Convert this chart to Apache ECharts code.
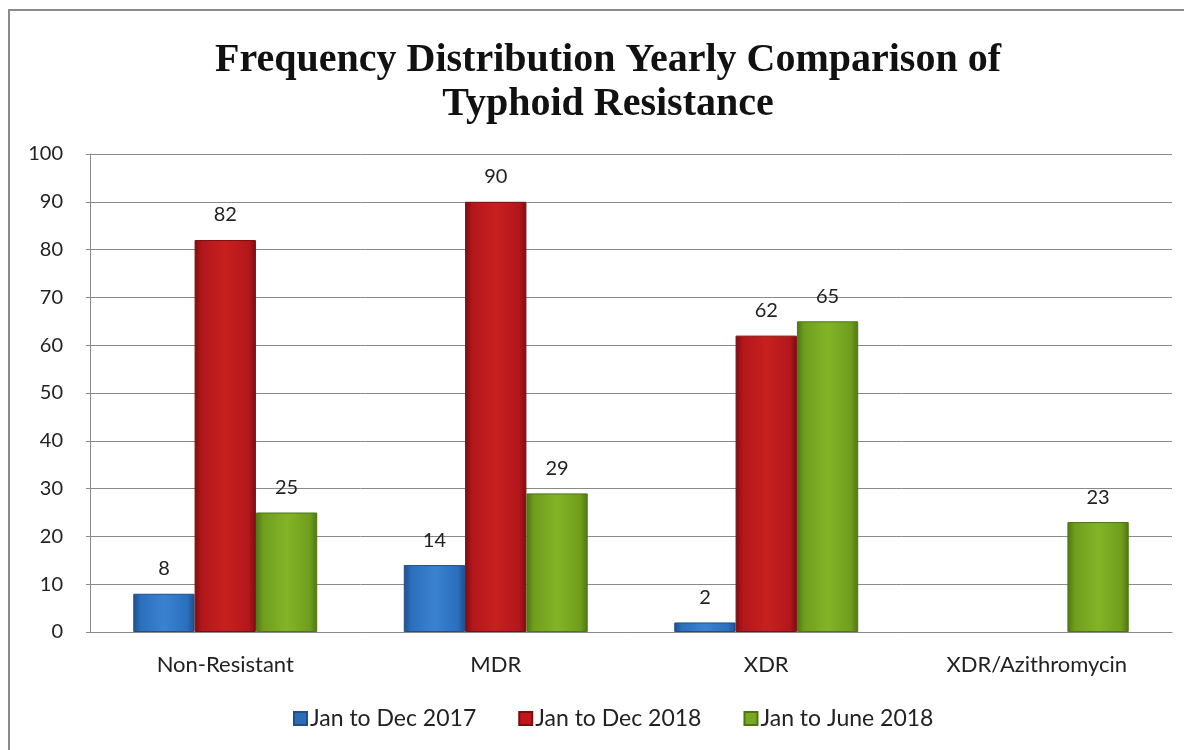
<!DOCTYPE html>
<html>
<head>
<meta charset="utf-8">
<script src="https://cdn.jsdelivr.net/npm/echarts@6/dist/echarts.min.js"></script>
<style>
  html, body { margin: 0; padding: 0; background: #fff; }
  #chart { width: 1184px; height: 750px; }
</style>
</head>
<body>
<div id="chart"></div>
<script>
// Resistance categories and counts per period
const categories = ['Non-Resistant', 'MDR', 'XDR', 'XDR/Azithromycin'];
const seriesNames = ['Jan to Dec 2017', 'Jan to Dec 2018', 'Jan to June 2018'];
const values2017 = [8, 14, 2, null];
const values2018 = [82, 90, 62, null];
const valuesJun2018 = [25, 29, 65, 23];
const yTicks = { min: 0, max: 100, interval: 10 };

const baseFont = 'Lato, "Open Sans", sans-serif';

// Bevelled look: horizontal gradient darker on the sides
function barFill(dark, mid, light) {
  return new echarts.graphic.LinearGradient(0, 0, 1, 0, [
    { offset: 0, color: dark },
    { offset: 0.12, color: mid },
    { offset: 0.5, color: light },
    { offset: 0.88, color: mid },
    { offset: 1, color: dark }
  ]);
}

const palettes = [
  { dark: '#1d4f8c', mid: '#2b6fbd', light: '#3a82d0', legend: '#2a6cb6' },
  { dark: '#7e0d10', mid: '#b3171b', light: '#c8201f', legend: '#c0171b' },
  { dark: '#4f7512', mid: '#6f9e1d', light: '#82b427', legend: '#78a822' }
];

const dataSets = [values2017, values2018, valuesJun2018];

const chart = echarts.init(document.getElementById('chart'), null, { renderer: 'canvas' });

chart.setOption({
  backgroundColor: '#fff',
  animation: false,
  title: {
    text: 'Frequency Distribution Yearly Comparison of\nTyphoid Resistance',
    left: 603,
    textAlign: 'center',
    top: 34,
    textStyle: {
      fontFamily: '"Liberation Serif", "Times New Roman", serif',
      fontWeight: 'bold',
      fontSize: 40,
      lineHeight: 44,
      color: '#111'
    }
  },
  graphic: [{
    type: 'rect',
    shape: { x: 9, y: 10, width: 1200, height: 800 },
    style: { fill: 'none', stroke: '#8a8a8a', lineWidth: 2 },
    silent: true,
    z: -1
  }],
  legend: {
    bottom: 15,
    left: 288,
    itemWidth: 13,
    itemHeight: 13,
    itemGap: 42,
    icon: 'rect',
    textStyle: { fontFamily: baseFont, fontSize: 23, color: '#222', padding: [0, 0, 0, -2] },
    data: seriesNames.map((n, i) => ({ name: n, itemStyle: { color: palettes[i].legend } }))
  },
  grid: { left: 90, right: 12, top: 154, bottom: 118, containLabel: false },
  xAxis: {
    type: 'category',
    data: categories,
    axisLine: { lineStyle: { color: '#8a8a8a', width: 1 } },
    axisTick: { show: false },
    axisLabel: { fontFamily: baseFont, fontSize: 22, color: '#222', margin: 22 }
  },
  yAxis: {
    type: 'value',
    min: yTicks.min,
    max: yTicks.max,
    interval: yTicks.interval,
    axisLine: { show: true, lineStyle: { color: '#8a8a8a' } },
    axisTick: { show: true, length: 4, lineStyle: { color: '#8a8a8a' } },
    axisLabel: { fontFamily: baseFont, fontSize: 20, color: '#222', margin: 27 },
    splitLine: { lineStyle: { color: '#8a8a8a', width: 1 } }
  },
  series: dataSets.map((d, i) => ({
    name: seriesNames[i],
    type: 'bar',
    data: d,
    barGap: '0%',
    barCategoryGap: '32%',
    itemStyle: {
      color: barFill(palettes[i].dark, palettes[i].mid, palettes[i].light),
      borderColor: palettes[i].dark,
      borderWidth: 1
    },
    label: {
      show: true,
      position: 'top',
      distance: 15,
      fontFamily: baseFont,
      fontSize: 20,
      color: '#222'
    }
  }))
});
</script>
</body>
</html>
